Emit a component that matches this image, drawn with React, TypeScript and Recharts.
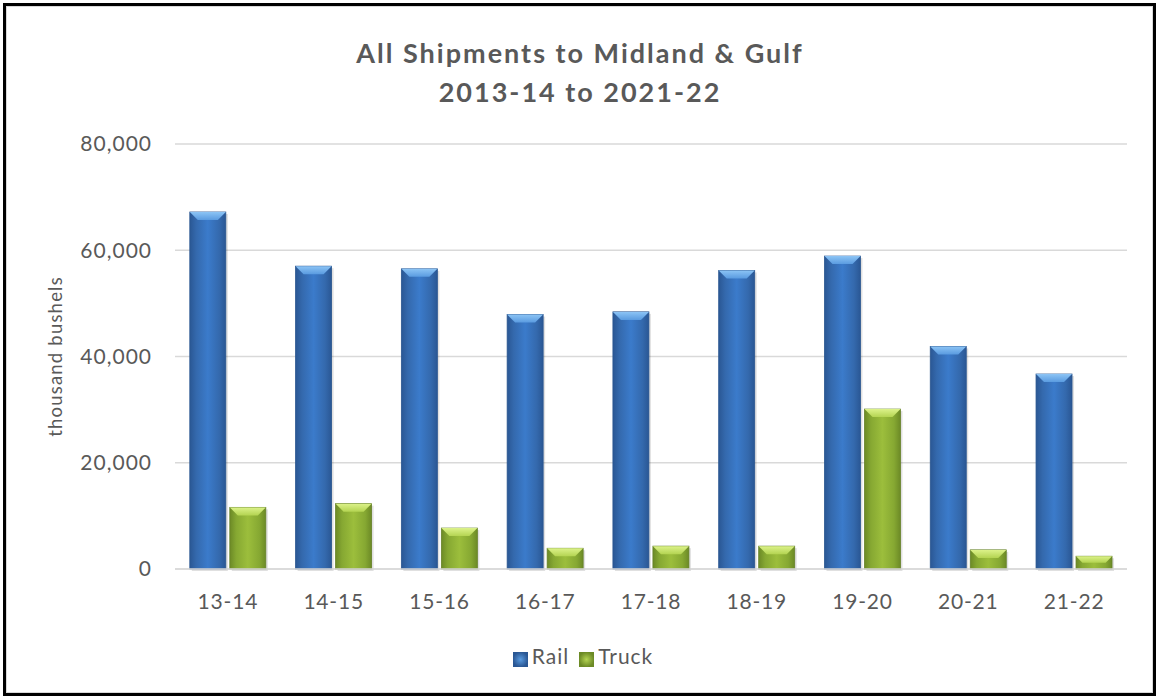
import React from 'react';
import { BarChart, Bar, XAxis, YAxis, CartesianGrid, Legend } from 'recharts';

// values in thousand bushels
const seasons = ['13-14', '14-15', '15-16', '16-17', '17-18', '18-19', '19-20', '20-21', '21-22'];
const railShipments = [67200, 57000, 56500, 47900, 48400, 56200, 58900, 41900, 36700];
const truckShipments = [11600, 12300, 7700, 3900, 4300, 4300, 30100, 3600, 2400];
const yTicks = [0, 20000, 40000, 60000, 80000];

const data = seasons.map((season, i) => ({
  season,
  rail: railShipments[i],
  truck: truckShipments[i],
}));

const FONT = 'Lato, "Open Sans", sans-serif';
const TEXT = '#595959';
const GRID = '#d9d9d9';

// bar with the bevelled look of the office chart style
const makeBevelBar = (id: string, edge: string) => (props: any) => {
  const { x, y, width, height } = props;
  if (!height || height <= 0) return <g />;
  const b = Math.min(8, height / 2);
  return (
    <g>
      <rect x={x + 2} y={y + 2} width={width} height={height} fill="rgba(0,0,0,0.12)" />
      <rect x={x} y={y} width={width} height={height} fill={`url(#${id}Body)`} stroke={edge} strokeWidth={0.8} />
      <polygon
        points={`${x},${y} ${x + width},${y} ${x + width - b},${y + b} ${x + b},${y + b}`}
        fill={`url(#${id}Top)`}
      />
    </g>
  );
};

const RailBar = makeBevelBar('rail', '#2a5690');
const TruckBar = makeBevelBar('truck', '#66822a');

const AxisTitle = ({ viewBox }: any) => {
  const cx = viewBox.x - 38;
  const cy = viewBox.y + viewBox.height / 2;
  return (
    <text
      x={cx}
      y={cy}
      transform={`rotate(-90, ${cx}, ${cy})`}
      textAnchor="middle"
      dominantBaseline="middle"
      fill={TEXT}
      fontSize={18.5}
      letterSpacing={1.2}
      fontFamily={FONT}
    >
      thousand bushels
    </text>
  );
};

const App = () => {
  return (
    <div style={{ position: 'absolute', left: 0, top: 0, width: 1156, height: 696, background: '#fff', fontFamily: FONT }}>
      <div
        style={{
          position: 'absolute',
          left: 3,
          top: 3,
          width: 1153,
          height: 693,
          boxSizing: 'border-box',
          border: '3px solid #000',
        }}
      >
        <div style={{ width: '100%', height: '100%', boxSizing: 'border-box', border: `1px solid ${GRID}` }} />
      </div>
      <div
        style={{
          position: 'absolute',
          left: 0,
          top: 33,
          width: 1160,
          textAlign: 'center',
          color: TEXT,
          fontSize: 27,
          fontWeight: 700,
          letterSpacing: 2,
          lineHeight: '39px',
        }}
      >
        All Shipments to Midland &amp; Gulf
        <br />
        2013-14 to 2021-22
      </div>
      <div style={{ position: 'absolute', left: 0, top: 0 }}>
        <BarChart
          width={1156}
          height={696}
          data={data}
          margin={{ top: 144, right: 29, left: 95, bottom: 28 }}
          barCategoryGap="14%"
          barGap={4}
        >
          <defs>
            <linearGradient id="railBody" x1="0" y1="0" x2="1" y2="0">
              <stop offset="0%" stopColor="#2a5794" />
              <stop offset="18%" stopColor="#3469ad" />
              <stop offset="50%" stopColor="#3b7bcb" />
              <stop offset="82%" stopColor="#3469ad" />
              <stop offset="100%" stopColor="#2a5794" />
            </linearGradient>
            <linearGradient id="railTop" x1="0" y1="0" x2="0" y2="1">
              <stop offset="0%" stopColor="#8cc4f5" />
              <stop offset="100%" stopColor="#5a9be0" />
            </linearGradient>
            <linearGradient id="truckBody" x1="0" y1="0" x2="1" y2="0">
              <stop offset="0%" stopColor="#6c8a26" />
              <stop offset="18%" stopColor="#86a832" />
              <stop offset="50%" stopColor="#9cbe3c" />
              <stop offset="82%" stopColor="#86a832" />
              <stop offset="100%" stopColor="#6c8a26" />
            </linearGradient>
            <linearGradient id="truckTop" x1="0" y1="0" x2="0" y2="1">
              <stop offset="0%" stopColor="#dcf28a" />
              <stop offset="100%" stopColor="#b4d452" />
            </linearGradient>
            <radialGradient id="railLegend">
              <stop offset="0%" stopColor="#5a9be0" />
              <stop offset="100%" stopColor="#2a5794" />
            </radialGradient>
            <radialGradient id="truckLegend">
              <stop offset="0%" stopColor="#b4d452" />
              <stop offset="100%" stopColor="#6c8a26" />
            </radialGradient>
          </defs>
          <CartesianGrid vertical={false} stroke={GRID} strokeWidth={1.5} />
          <XAxis
            dataKey="season"
            height={74}
            tickLine={false}
            axisLine={{ stroke: GRID, strokeWidth: 1.5 }}
            tickMargin={19}
            tick={{ fill: TEXT, fontSize: 21, fontFamily: FONT, letterSpacing: 0.8 }}
          />
          <YAxis
            width={80}
            domain={[0, 80000]}
            ticks={yTicks}
            tickLine={false}
            axisLine={false}
            tickMargin={17}
            tick={{ fill: TEXT, fontSize: 21, fontFamily: FONT, letterSpacing: 1 }}
            tickFormatter={(v: number) => v.toLocaleString('en-US')}
            label={<AxisTitle />}
          />
          <Legend
            iconType="square"
            iconSize={15}
            wrapperStyle={{ left: 72 }}
            formatter={(value: string) => (
              <span style={{ color: TEXT, fontSize: 21, fontFamily: FONT, letterSpacing: 1 }}>{value}</span>
            )}
          />
          <Bar dataKey="rail" name="Rail" fill="url(#railLegend)" shape={RailBar} isAnimationActive={false} />
          <Bar dataKey="truck" name="Truck" fill="url(#truckLegend)" shape={TruckBar} isAnimationActive={false} />
        </BarChart>
      </div>
    </div>
  );
};

export default App;
